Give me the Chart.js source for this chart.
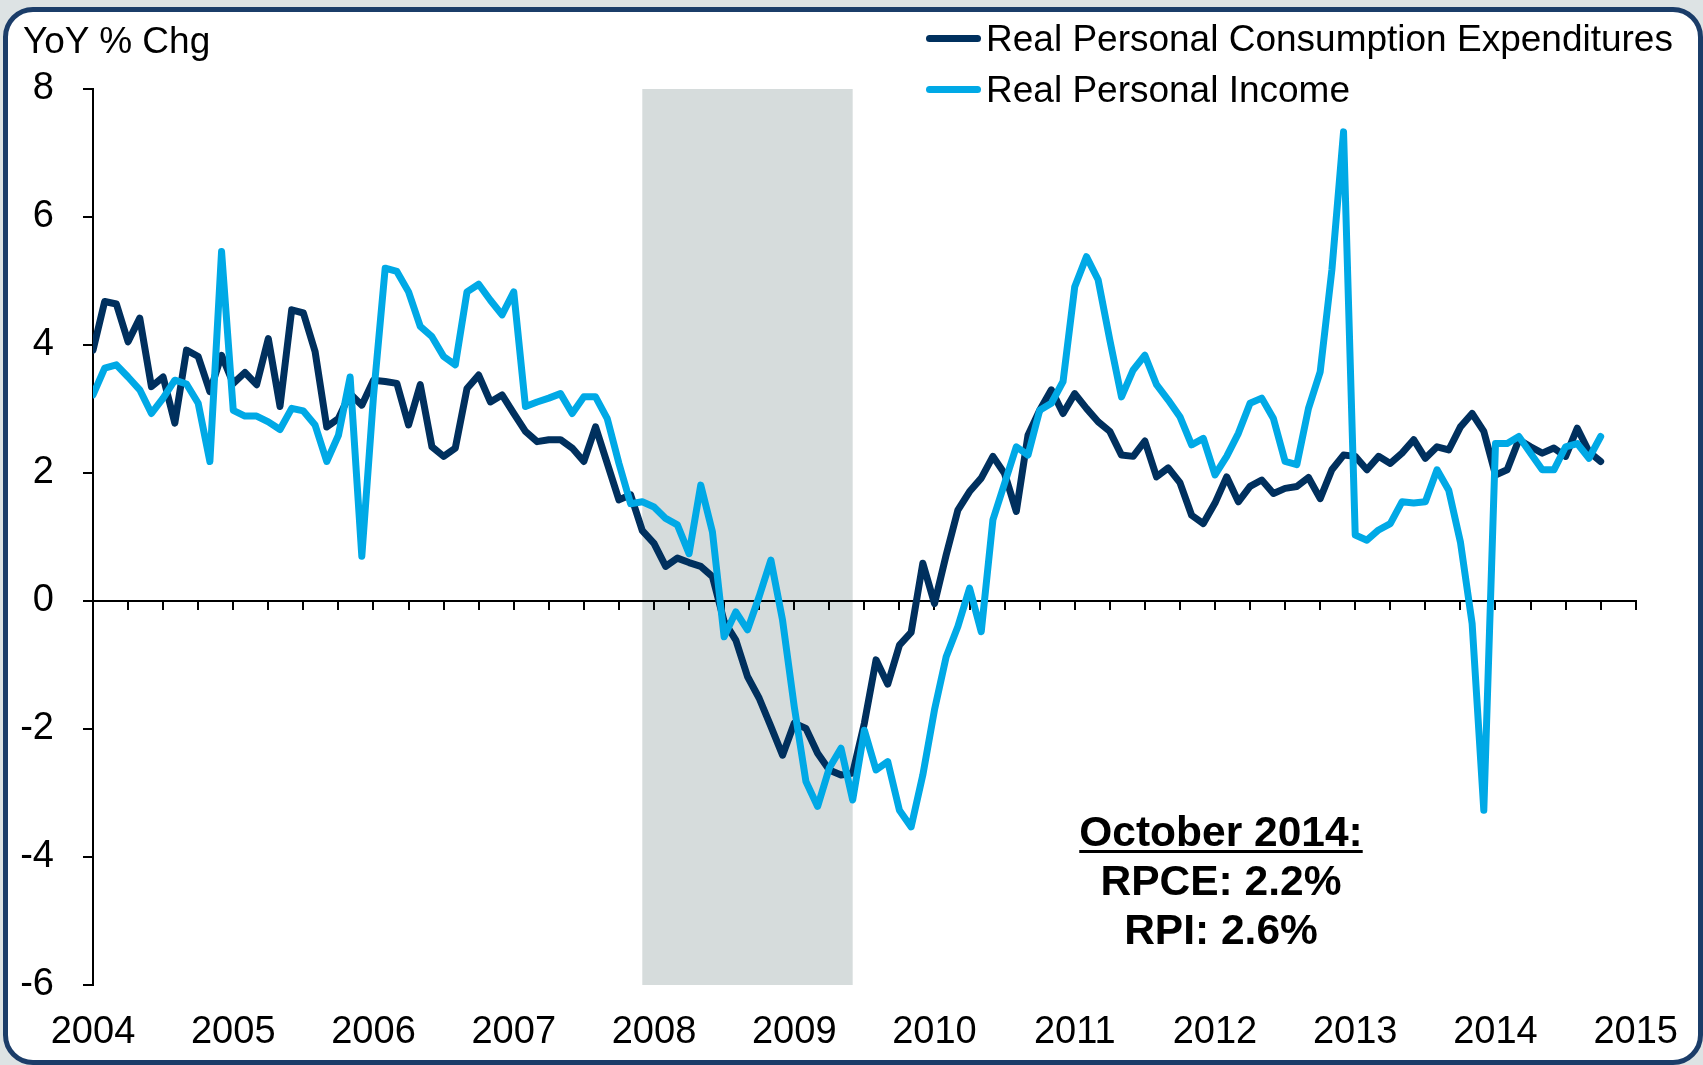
<!DOCTYPE html>
<html>
<head>
<meta charset="utf-8">
<title>Real Personal Consumption Expenditures vs Real Personal Income</title>
<script src="https://cdn.jsdelivr.net/npm/chart.js@4.4.1/dist/chart.umd.min.js"></script>
<style>
  html, body { margin: 0; padding: 0; }
  body {
    width: 1703px; height: 1065px; position: relative; overflow: hidden;
    background: #dde3e4; color: #000;
    font-family: 'Liberation Sans', Arial, sans-serif;
  }
  #frame {
    position: absolute; left: 3px; top: 7px; width: 1700px; height: 1058px;
    box-sizing: border-box; border: 5px solid #1b3d69; border-radius: 30px; background: #fff;
  }
  #chart { position: absolute; left: 0; top: 0; }
  #unit { position: absolute; left: 23px; top: 22px; font-size: 37px; line-height: 37px; white-space: nowrap; }
  .legend-text { position: absolute; left: 986px; font-size: 37px; line-height: 37px; white-space: nowrap; }
  .legend-swatch { position: absolute; left: 926px; width: 55px; height: 7px; border-radius: 4px; }
  #callout {
    position: absolute; left: 1071px; top: 807px; width: 300px; text-align: center;
    font-weight: bold; font-size: 42.5px; line-height: 49px; white-space: nowrap;
  }
  #callout u { text-decoration-thickness: 3px; text-underline-offset: 4px; }
</style>
</head>
<body>
<div id="frame"></div>
<canvas id="chart" width="1703" height="1065"></canvas>
<div id="unit">YoY % Chg</div>
<div id="legend"></div>
<div id="callout"><u>October 2014:</u><br>RPCE: 2.2%<br>RPI: 2.6%</div>
<script>
// monthly YoY % change, Jan 2004 - Oct 2014
const rpce = [
  3.92, 4.68, 4.64, 4.05, 4.42, 3.35, 3.50, 2.78, 3.92, 3.82, 3.27, 3.84,
  3.40, 3.57, 3.38, 4.10, 3.04, 4.55, 4.50, 3.90, 2.72, 2.85, 3.24, 3.06,
  3.45, 3.43, 3.40, 2.75, 3.38, 2.41, 2.26, 2.39, 3.32, 3.53, 3.11, 3.22,
  2.93, 2.65, 2.49, 2.52, 2.52, 2.39, 2.18, 2.72, 2.15, 1.58, 1.66, 1.10,
  0.90, 0.54, 0.67, 0.60, 0.54, 0.38, -0.32, -0.61, -1.18, -1.52, -1.96, -2.41,
  -1.91, -1.99, -2.38, -2.64, -2.72, -2.69, -1.91, -0.92, -1.30, -0.69, -0.49, 0.59,
  -0.04, 0.72, 1.42, 1.71, 1.92, 2.26, 1.99, 1.40, 2.59, 2.98, 3.30, 2.93,
  3.24, 3.01, 2.80, 2.65, 2.28, 2.26, 2.50, 1.94, 2.08, 1.85, 1.34, 1.21,
  1.53, 1.94, 1.55, 1.79, 1.89, 1.68, 1.76, 1.79, 1.93, 1.60, 2.05, 2.28,
  2.26, 2.05, 2.26, 2.15, 2.31, 2.52, 2.23, 2.41, 2.36, 2.72, 2.93, 2.65,
  1.97, 2.05, 2.52, 2.41, 2.31, 2.39, 2.26, 2.70, 2.33, 2.18
];
const rpi = [
  3.22, 3.64, 3.69, 3.50, 3.30, 2.93, 3.17, 3.45, 3.39, 3.09, 2.18, 5.46,
  2.98, 2.89, 2.89, 2.80, 2.68, 3.01, 2.97, 2.75, 2.18, 2.59, 3.50, 0.70,
  3.20, 5.20, 5.15, 4.83, 4.29, 4.13, 3.82, 3.69, 4.83, 4.95, 4.70, 4.47,
  4.83, 3.04, 3.11, 3.17, 3.24, 2.93, 3.19, 3.19, 2.85, 2.15, 1.52, 1.55,
  1.47, 1.29, 1.19, 0.74, 1.81, 1.08, -0.56, -0.17, -0.45, 0.07, 0.64, -0.30,
  -1.65, -2.82, -3.21, -2.61, -2.30, -3.11, -2.02, -2.64, -2.51, -3.27, -3.53, -2.72,
  -1.70, -0.87, -0.40, 0.20, -0.48, 1.27, 1.84, 2.41, 2.28, 2.98, 3.09, 3.43,
  4.91, 5.38, 5.02, 4.08, 3.19, 3.61, 3.84, 3.38, 3.14, 2.88, 2.44, 2.54,
  1.97, 2.26, 2.62, 3.09, 3.17, 2.85, 2.18, 2.13, 3.01, 3.58, 5.17, 7.33,
  1.03, 0.95, 1.11, 1.21, 1.55, 1.53, 1.55, 2.05, 1.73, 0.92, -0.35, -3.27,
  2.46, 2.46, 2.57, 2.31, 2.05, 2.05, 2.41, 2.46, 2.23, 2.57
];
const yearLabels = ['2004', '2005', '2006', '2007', '2008', '2009', '2010', '2011', '2012', '2013', '2014', '2015'];
// recession, in months since Jan 2004 (Dec 2007 - Jun 2009)
const recessions = [[47, 65]];
const yMin = -6;
const yMax = 8;

const toPoints = values => values.map((v, i) => ({ x: i, y: v }));

Chart.defaults.font.family = "'Liberation Sans', Arial, sans-serif";
Chart.defaults.font.size = 38;
Chart.defaults.color = '#000';

const recessionShade = {
    id: 'recessionShade',
    beforeDraw(chart) {
        const { ctx, scales: { x, y } } = chart;
        ctx.save();
        ctx.fillStyle = '#d6dcdc';
        recessions.forEach(([from, to]) => {
            const left = x.getPixelForValue(from);
            const right = x.getPixelForValue(to);
            const top = y.getPixelForValue(yMax);
            const bottom = y.getPixelForValue(yMin);
            ctx.fillRect(left, top, right - left, bottom - top);
        });
        ctx.restore();
    }
};

const chart = new Chart(document.getElementById('chart'), {
    type: 'line',
    data: {
        datasets: [
            { label: 'Real Personal Consumption Expenditures', data: toPoints(rpce), borderColor: '#00305e', order: 1 },
            { label: 'Real Personal Income', data: toPoints(rpi), borderColor: '#00a9e6', order: 0 }
        ]
    },
    options: {
        responsive: false,
        animation: false,
        devicePixelRatio: 1,
        layout: { padding: { left: 0, top: 89, right: 65, bottom: 0 } },
        elements: {
            line: { borderWidth: 7, tension: 0, borderJoinStyle: 'round', borderCapStyle: 'round' },
            point: { radius: 0 }
        },
        scales: {
            x: {
                type: 'linear', min: 0, max: yearLabels.length * 12 - 12, position: 'bottom',
                grid: { display: false, drawTicks: false },
                border: { display: false },
                ticks: {
                    stepSize: 12, maxTicksLimit: 20, autoSkip: false, maxRotation: 0, padding: 25,
                    callback: v => yearLabels[v / 12] ?? ''
                },
                afterFit: s => { s.height = 80; }
            },
            // zero line with quarterly tick marks
            xq: {
                type: 'linear', axis: 'x', min: 0, max: yearLabels.length * 12 - 12, position: { y: 0 },
                grid: { drawOnChartArea: false, drawTicks: true, tickLength: 8, color: '#000', lineWidth: 2 },
                border: { color: '#000', width: 2 },
                ticks: { display: false, stepSize: 3, maxTicksLimit: 60 },
                afterFit: s => { s.height = 0; }
            },
            y: {
                min: yMin, max: yMax, position: 'left',
                grid: { drawOnChartArea: false, drawTicks: true, tickLength: 10, color: '#000', lineWidth: 2 },
                border: { color: '#000', width: 2 },
                ticks: { stepSize: 2, padding: 29 },
                afterFit: s => { s.width = 93; }
            }
        },
        plugins: {
            legend: { display: false },
            tooltip: { enabled: false }
        }
    },
    plugins: [recessionShade]
});

// legend as html, two rows top right
const legendBox = document.getElementById('legend');
chart.data.datasets.forEach((ds, i) => {
    const swatch = document.createElement('div');
    swatch.className = 'legend-swatch';
    swatch.style.background = ds.borderColor;
    swatch.style.top = (34.5 + i * 51) + 'px';
    const text = document.createElement('div');
    text.className = 'legend-text';
    text.style.top = (20 + i * 51) + 'px';
    text.textContent = ds.label;
    legendBox.appendChild(swatch);
    legendBox.appendChild(text);
});
</script>
</body>
</html>
